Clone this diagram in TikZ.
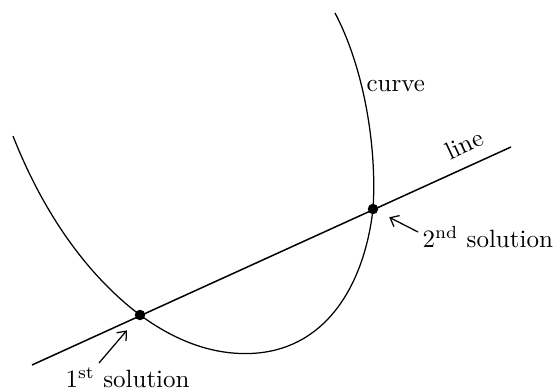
\documentclass[tikz,border=0pt]{standalone}
\usetikzlibrary{arrows.meta}
\begin{document}
\begin{tikzpicture}[x=0.4pt,y=-0.4pt,
  curvestyle/.style={line width=0.5pt},
  linestyle/.style={line width=0.6pt},
  dotstyle/.style={circle,fill=black,inner sep=0pt,minimum size=4.2pt},
  lbl/.style={inner sep=0pt,font=\normalsize},
  pointer/.style={line width=0.5pt,-{Straight Barb[length=3pt,width=5pt]}}]
\useasboundingbox (0,0) rectangle (553,390);
% solution dots (positions)
\coordinate (p1) at (140,315);
\coordinate (p2) at (373,209);
% curve
\draw[curvestyle] (13,136) .. controls (50,230) and (100,285) .. (p1)
  .. controls (185,348) and (225,356) .. (258,353)
  .. controls (330,346) and (365,280) .. (p2)
  .. controls (377,150) and (365,70) .. (335,13);
% line
\coordinate (ls) at (32,365);
\coordinate (le) at (511,147);
\draw[linestyle] (ls) -- (le);
% dots
\node[dotstyle] (d1) at (p1) {};
\node[dotstyle] (d2) at (p2) {};
% labels
\node[lbl,anchor=base west] (lc) at (366,91.5) {curve};
\node[lbl,anchor=base,rotate=25] (ll) at (468,152) {line};
\node[lbl,anchor=base west] (l1) at (65,388) {1\textsuperscript{st} solution};
\node[lbl,anchor=base west] (l2) at (422,248) {2\textsuperscript{nd} solution};
% pointers
\coordinate (a1) at (99,363);
\coordinate (a2) at (418,232);
\draw[pointer,shorten >=5.8pt] (a1) -- (d1);
\draw[pointer,shorten >=5pt] (a2) -- (d2);
\end{tikzpicture}
\end{document}
